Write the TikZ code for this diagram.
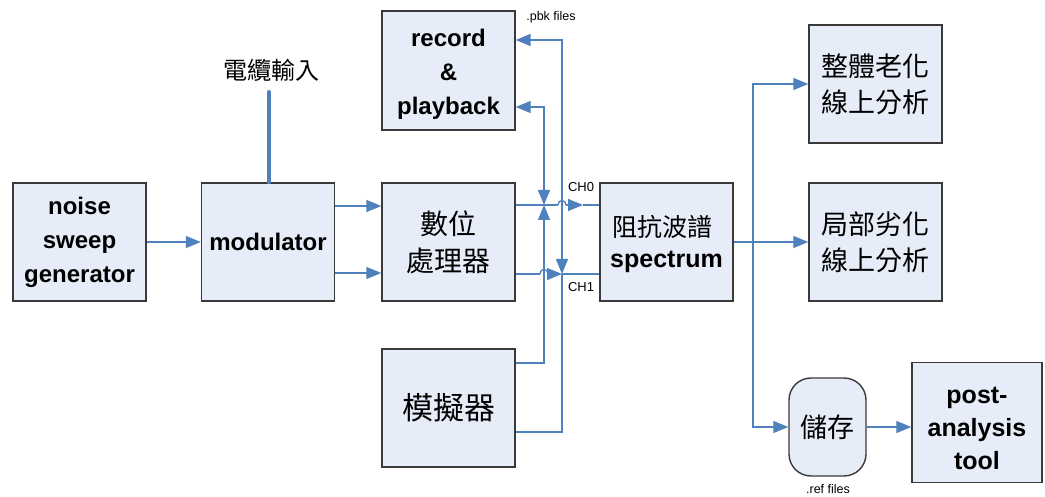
\documentclass[tikz,border=0pt]{standalone}
\usepackage{fontspec}
\setmainfont{Liberation Sans}
\newfontfamily\cjk{Noto Sans CJK TC}
\usetikzlibrary{arrows.meta,calc}
\definecolor{boxfill}{HTML}{E6ECF8}
\definecolor{boxline}{HTML}{3A3A3A}
\definecolor{wire}{HTML}{4F81BD}
\tikzset{
  blk/.style={draw=boxline, fill=boxfill, line width=1.4bp, minimum width=133bp, minimum height=118bp, inner sep=0pt, align=center},
  en/.style={font=\fontsize{24bp}{34bp}\selectfont\bfseries},
  zh/.style={font=\cjk\fontsize{#1bp}{1.32\dimexpr#1bp\relax}\selectfont},
  conn/.style={draw=wire, line width=1.3bp},
  tip/.style={-{Triangle[length=15bp,width=12bp]}},
  tips/.style={{Triangle[length=15bp,width=12bp]}-{Triangle[length=15bp,width=12bp]}},
  small/.style={font=\fontsize{12.5bp}{14bp}\selectfont, inner sep=0pt}
}
\begin{document}
\begin{tikzpicture}[x=1bp,y=-1bp]
\useasboundingbox (0,0) rectangle (1045,497);
% boxes
\node[blk,en] (noise) at (79.5,242) {noise\\sweep\\generator};
\node[blk,en] (mod) at (268,242) {modulator};
\node[blk,zh=28] (dsp) at (448.5,242) {數位\\處理器};
\node[blk,minimum height=119bp] (rec) at (448.5,70.5) {};
\node[en,align=center,inner sep=0pt] (rectext) at ([yshift=-4bp]rec.center) {record\\\&\\playback};
\node[blk,zh=31] (sim) at (448.5,408) {模擬器};
\node[blk] (spec) at (666.5,242) {};
\node[zh=25,inner sep=0pt] (spectop) at (662,227) {阻抗波譜};
\node[font=\fontsize{25bp}{30bp}\selectfont\bfseries,inner sep=0pt] (specbot) at (666.5,262) {spectrum};
\node[blk,zh=27] (whole) at (875.5,84) {整體老化\\線上分析};
\node[blk,zh=27] (local) at (875.5,242) {局部劣化\\線上分析};
\node[blk,zh=27,minimum width=77bp,minimum height=98bp,rounded corners=22bp] (store) at (827.5,427) {儲存};
\node[blk,minimum width=130bp,minimum height=120bp] (post) at (977,422.5) {};
\node[font=\fontsize{25bp}{33bp}\selectfont\bfseries,align=center,inner sep=0pt] (posttext) at ([yshift=-6bp]post.center) {post-\\analysis\\tool};
% labels
\node[zh=24] (cable) at (271,70) {電纜輸入};
\node[small] (pbk) at (551,17) {.pbk files};
\node[small] (refl) at (828,489) {.ref files};
\node[small,font=\fontsize{13bp}{15bp}\selectfont] (ch0) at (581,187) {CH0};
\node[small,font=\fontsize{13bp}{15bp}\selectfont] (ch1) at (581,287) {CH1};
% helper coordinates
\coordinate (cabtop) at (269,92);
\coordinate (u206) at (0,206);
\coordinate (u273) at (0,273);
\coordinate (c0) at (0,205);
\coordinate (c1) at (0,274);
\coordinate (a0) at (544,107);
\coordinate (ajn) at (544,205);
\coordinate (abot) at (544,363);
\coordinate (b0) at (562,40);
\coordinate (bjn) at (562,274);
\coordinate (bbot) at (562,432);
\coordinate (hop0a) at (558,205);
\coordinate (hop0b) at (566,205);
\coordinate (hop1a) at (540,274);
\coordinate (hop1b) at (548,274);
\coordinate (c0tip) at (583,205);
\coordinate (br) at (753,242);
% left connectors
\draw[line width=4bp, draw=wire, line cap=round] (cabtop) -- (mod.north -| cabtop);
\draw[conn,tip] (noise) -- (mod);
\draw[conn,tip] (mod.east |- u206) -- (dsp.west |- u206);
\draw[conn,tip] (mod.east |- u273) -- (dsp.west |- u273);
% record / simulator wiring
\draw[conn,tips] (rec.east |- a0) -- (a0) -- (ajn);
\draw[conn,tip] (sim.east |- abot) -- (abot) -- (ajn);
\draw[conn,tips] (rec.east |- b0) -- (b0) -- (bjn);
\draw[conn] (sim.east |- bbot) -- (bbot) -- (bjn);
% CH0 and CH1
\draw[conn] (dsp.east |- c0) -- (hop0a);
\draw[conn] (hop0a) .. controls (558,199) and (566,199) .. (hop0b);
\draw[conn,tip] (hop0b) -- (c0tip);
\draw[conn] (c0tip) -- (spec.west |- c0);
\draw[conn] (dsp.east |- c1) -- (hop1a);
\draw[conn] (hop1a) .. controls (540,268) and (548,268) .. (hop1b);
\draw[conn,tip] (hop1b) -- (bjn);
\draw[conn] (bjn) -- (spec.west |- c1);
% right side
\draw[conn,tip] (spec.east) -- (local.west);
\draw[conn,tip] (br) |- (whole.west);
\draw[conn,tip] (br) |- (store.west);
\draw[conn,tip] (store.east) -- (store.east -| post.west);
\end{tikzpicture}
\end{document}
